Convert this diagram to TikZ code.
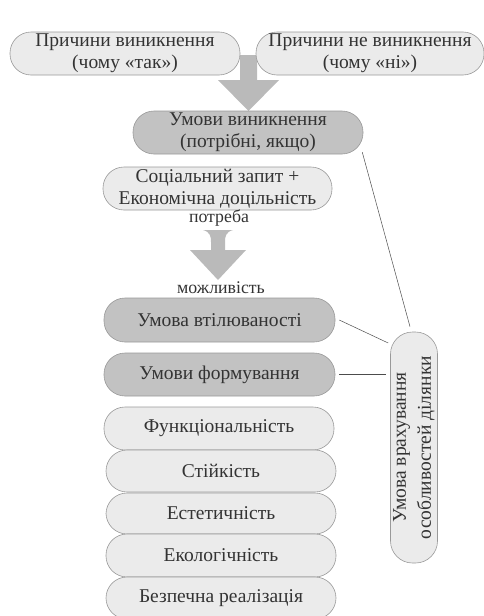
\documentclass[tikz,border=0pt]{standalone}
\usepackage{fontspec}
\setmainfont{Liberation Serif}
\begin{document}
\begin{tikzpicture}[x=1pt,y=-1pt,
  base/.style={draw=black!40, line width=0.6pt, text=black!80, align=center, inner sep=0pt,
    font=\fontsize{19.5}{22}\selectfont},
  lightbox/.style={base, fill=black!8, minimum width=230pt, minimum height=43pt, rounded corners=21pt},
  darkbox/.style={base, fill=black!24, minimum width=230pt, minimum height=43pt, rounded corners=21pt},
  plain/.style={text=black!80, inner sep=0pt, font=\fontsize{17.8}{20}\selectfont},
  bigarrow/.style={fill=black!27, draw=none},
  link/.style={draw=black!70, line width=0.5pt}]
\useasboundingbox (0,0) rectangle (484,616);
% arrows
\fill[bigarrow] (240,55) -- (257,55) -- (257,80) -- (279,80) -- (248.5,111) -- (218,80) -- (240,80) -- cycle;
\fill[bigarrow] (203,230) -- (233,230) .. controls (226,232) and (225,236) .. (225,242) -- (225,250)
  -- (246,250) -- (218,280) -- (190,250) -- (211,250) -- (211,242) .. controls (211,236) and (210,232) .. (203,230) -- cycle;
% nodes
\node[lightbox, minimum width=230pt] (pv) at (125,53.5) {Причини виникнення\\(чому «так»)};
\node[lightbox, minimum width=228pt] (pn) at (370,53.5) {Причини не виникнення\\(чому «ні»)};
\node[darkbox] (uv) at (248,132.5) {Умови виникнення\\(потрібні, якщо)};
\node[lightbox, minimum width=229pt] (sz) at (217.5,188.5) {Соціальний запит +\\Економічна доцільність};
\node[plain] (potr) at (219,218) {потреба};
\node[plain] (mozh) at (221,288) {можливість};
\node[darkbox, minimum width=231pt, minimum height=44pt] (uvt) at (219.5,320) {Умова втілюваності};
\node[darkbox, minimum width=231pt] (uf) at (219.5,374.5) {Умови формування};
\node[lightbox] (f1) at (219,428.5) {Функціональність};
\node[lightbox, minimum height=42pt] (f2) at (221,471) {Стійкість};
\node[lightbox, minimum height=41pt] (f3) at (221,513.5) {Естетичність};
\node[lightbox, minimum height=43pt] (f4) at (221,555.5) {Екологічність};
\node[lightbox, minimum height=42pt] (f5) at (221,598) {Безпечна реалізація};
\node[base, fill=black!8, minimum width=46pt, minimum height=231pt, rounded corners=22pt] (vb) at (414,447.5)
  {\rotatebox{90}{\begin{tabular}{@{}c@{}}Умова врахування\\[3pt]особливостей ділянки\end{tabular}}};
% links
\draw[link] ([shift={(-1,-2)}]uv.south east) -- ([shift={(-4,-5)}]vb.north);
\draw[link] ([xshift=4pt]uvt.east) -- ([shift={(-2,-104.5)}]vb.west);
\draw[link] ([xshift=4pt]uf.east) -- ([shift={(-4,-73)}]vb.west);
\end{tikzpicture}
\end{document}
